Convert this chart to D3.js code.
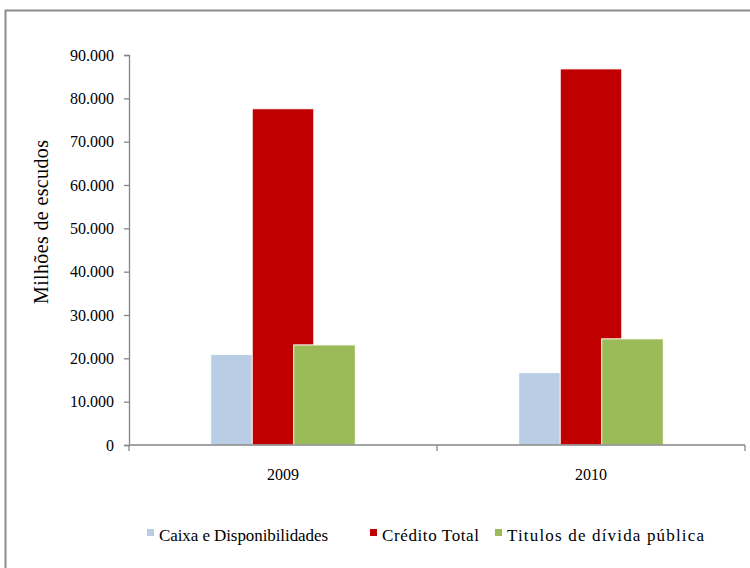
<!DOCTYPE html>
<html>
<head>
<meta charset="utf-8">
<script src="https://cdn.jsdelivr.net/npm/d3@7"></script>
<style>
  body { margin: 0; background: #fff; }
  svg text { font-family: "Liberation Serif", "Times New Roman", serif; fill: #000; }
</style>
</head>
<body>
<svg width="750" height="568"></svg>
<script>
// data
var years = ["2009", "2010"];
var series = ["Caixa e Disponibilidades", "Crédito Total", "Titulos de dívida pública"];
var caixa = [20900, 16700];
var credito = [77600, 86800];
var titulos = [23100, 24500];
var yTicks = [0, 10000, 20000, 30000, 40000, 50000, 60000, 70000, 80000, 90000];

var colors = ["#B9CDE5", "#C00000", "#9BBB59"];
var values = [caixa, credito, titulos];
var serif = "'Liberation Serif', 'Times New Roman', serif";

var svg = d3.select("svg");

// outer frame (runs off the right and bottom edges)
svg.append("path")
    .attr("d", "M5.5,580 L5.5,10.5 L760,10.5")
    .attr("fill", "none")
    .attr("stroke", "#8c8c8c")
    .attr("stroke-width", 2);

var plotL = 129, plotR = 745, plotT = 55, plotB = 445;

var x = d3.scaleBand().domain(years).range([plotL, plotR]).padding(0);
var xSub = d3.scalePoint().domain(series).range([-41.5, 41.5]);
var barW = x.bandwidth() * 0.2;
var y = d3.scaleLinear().domain([0, 90000]).range([plotB, plotT]);

var fmt = function(d) { return d3.format(",")(d).replace(/,/g, "."); };

// bars, one series after the other so later ones sit on top
series.forEach(function(s, si) {
  svg.append("g")
    .selectAll("rect")
    .data(years)
    .enter().append("rect")
      .attr("x", function(d) { return x(d) + x.bandwidth() / 2 + xSub(s) - barW / 2; })
      .attr("y", function(d, i) { return y(values[si][i]); })
      .attr("width", barW)
      .attr("height", function(d, i) { return plotB - y(values[si][i]); })
      .attr("fill", colors[si])
      .attr("stroke", "#fff")
      .attr("stroke-width", 1);
});

// y axis
var yAxis = svg.append("g")
    .attr("transform", "translate(" + plotL + ",0)")
    .call(d3.axisLeft(y).tickValues(yTicks).tickFormat(fmt).tickSize(5).tickPadding(10));
yAxis.attr("font-family", serif).attr("font-size", 16);

// x axis
var xAxis = svg.append("g")
    .attr("transform", "translate(0," + plotB + ")")
    .call(d3.axisBottom(x).tickSize(0).tickPadding(24));
xAxis.attr("font-family", serif).attr("font-size", 16);
xAxis.select(".domain").attr("d", "M" + plotL + ",0H" + plotR);

// category boundary ticks
xAxis.selectAll(".bound")
    .data([plotL, x("2010"), plotR])
    .enter().append("line")
      .attr("class", "bound")
      .attr("x1", function(d) { return d; })
      .attr("x2", function(d) { return d; })
      .attr("y1", 0)
      .attr("y2", 6);

svg.selectAll(".domain, .tick line, .bound")
    .attr("stroke", "#868686")
    .attr("stroke-width", 1.3);

// y axis title
svg.append("text")
    .attr("transform", "translate(48,222) rotate(-90)")
    .attr("text-anchor", "middle")
    .attr("font-family", serif)
    .attr("font-size", 20)
    .attr("textLength", 164)
    .attr("lengthAdjust", "spacing")
    .text("Milhões de escudos");

// legend
var legX = [147, 370, 495];
var legW = [169, 97, 197];
var legend = svg.append("g").selectAll("g")
    .data(series)
    .enter().append("g")
      .attr("transform", function(d, i) { return "translate(" + legX[i] + ",535)"; });
legend.append("rect")
    .attr("x", 0).attr("y", -6)
    .attr("width", 7).attr("height", 7)
    .attr("fill", function(d, i) { return colors[i]; });
legend.append("text")
    .attr("x", 12).attr("y", 6)
    .attr("font-family", serif)
    .attr("font-size", 17)
    .attr("textLength", function(d, i) { return legW[i]; })
    .attr("lengthAdjust", "spacing")
    .text(function(d) { return d; });
</script>
</body>
</html>
